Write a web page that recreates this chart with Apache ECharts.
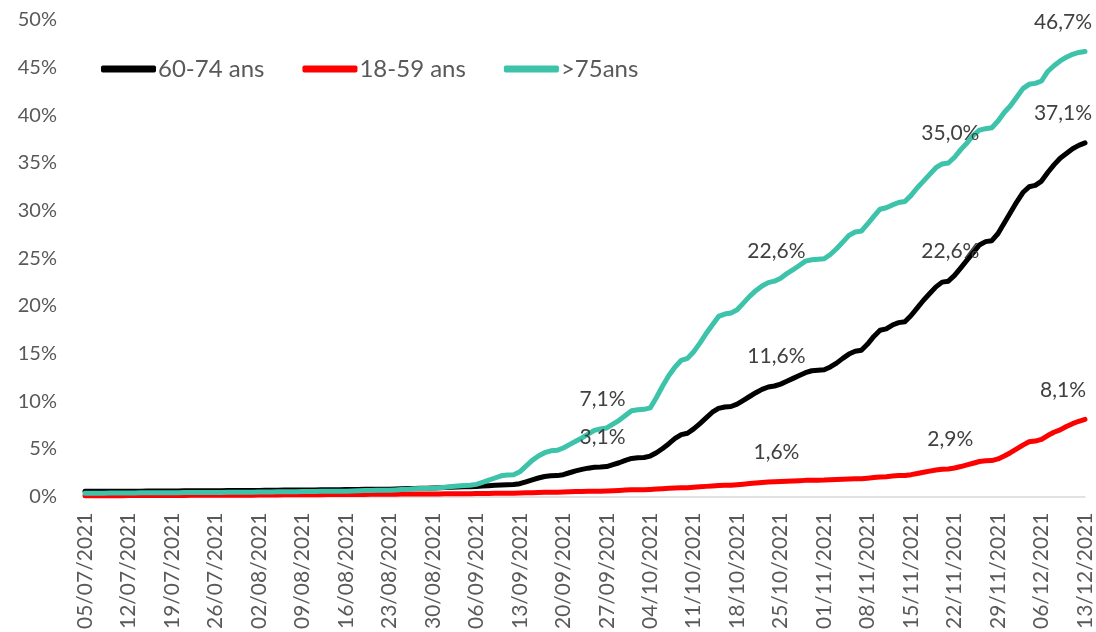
<!DOCTYPE html>
<html>
<head>
<meta charset="utf-8">
<script src="https://cdn.jsdelivr.net/npm/echarts@6/dist/echarts.min.js"></script>
<style>
html,body{margin:0;padding:0;background:#fff;}
#chart{width:1096px;height:632px;}
</style>
</head>
<body>
<div id="chart"></div>
<script>
// Daily categories from 05/07/2021 to 13/12/2021
var startDate = [2021, 6, 5];
var dayCount = 162;
var categories = [];
for (var i = 0; i < dayCount; i++) {
  var d = new Date(startDate[0], startDate[1], startDate[2] + i);
  var dd = ('0' + d.getDate()).slice(-2), mm = ('0' + (d.getMonth() + 1)).slice(-2);
  categories.push(dd + '/' + mm + '/' + d.getFullYear());
}

var seriesNames = ['60-74 ans', '18-59 ans', '>75ans'];

var age6074 = [
0.55,0.55,0.55,0.56,0.56,0.56,0.56,
0.57,0.57,0.57,0.58,0.58,0.58,0.58,
0.59,0.59,0.60,0.60,0.61,0.61,0.61,
0.62,0.62,0.63,0.63,0.64,0.64,0.64,
0.65,0.66,0.66,0.67,0.68,0.68,0.68,
0.69,0.70,0.70,0.71,0.72,0.72,0.72,
0.73,0.74,0.75,0.76,0.77,0.77,0.77,
0.78,0.80,0.82,0.84,0.86,0.87,0.87,
0.89,0.92,0.95,0.98,1.01,1.03,1.04,
1.06,1.10,1.14,1.18,1.22,1.25,1.26,
1.35,1.55,1.75,1.95,2.10,2.18,2.20,
2.30,2.50,2.70,2.85,2.98,3.07,3.10,
3.15,3.35,3.55,3.80,4.00,4.07,4.10,
4.25,4.60,5.05,5.55,6.10,6.50,6.65,
7.10,7.65,8.25,8.85,9.25,9.40,9.45,
9.70,10.1,10.5,10.9,11.25,11.5,11.6,
11.8,12.1,12.4,12.7,13.0,13.2,13.25,
13.3,13.6,14.0,14.5,14.95,15.25,15.35,
16.0,16.8,17.45,17.6,18.0,18.25,18.35,
19.0,19.8,20.6,21.3,22.0,22.5,22.6,
23.2,24.0,24.8,25.6,26.4,26.75,26.85,
27.6,28.7,29.8,30.9,31.9,32.5,32.65,
33.1,34.0,34.8,35.5,36.0,36.5,36.85,37.1
];

var age1859 = [
0.08,0.08,0.08,0.09,0.09,0.09,0.09,
0.10,0.10,0.10,0.11,0.11,0.11,0.11,
0.12,0.12,0.12,0.13,0.13,0.13,0.13,
0.14,0.14,0.14,0.15,0.15,0.15,0.15,
0.16,0.16,0.17,0.17,0.18,0.18,0.18,
0.19,0.19,0.20,0.20,0.21,0.21,0.21,
0.22,0.22,0.23,0.23,0.24,0.24,0.24,
0.25,0.25,0.26,0.26,0.27,0.27,0.27,
0.28,0.28,0.29,0.29,0.30,0.30,0.30,
0.31,0.32,0.33,0.34,0.35,0.35,0.35,
0.37,0.39,0.41,0.43,0.45,0.46,0.46,
0.48,0.50,0.52,0.54,0.56,0.57,0.57,
0.59,0.62,0.65,0.68,0.71,0.72,0.72,
0.75,0.79,0.83,0.87,0.91,0.93,0.93,
0.97,1.02,1.07,1.12,1.17,1.19,1.19,
1.24,1.30,1.36,1.42,1.48,1.53,1.56,
1.58,1.61,1.64,1.67,1.70,1.71,1.72,
1.73,1.76,1.79,1.82,1.85,1.87,1.88,
1.93,1.99,2.06,2.09,2.15,2.20,2.22,
2.30,2.42,2.55,2.67,2.79,2.87,2.90,
3.00,3.15,3.32,3.50,3.68,3.75,3.78,
3.95,4.25,4.60,5.00,5.40,5.75,5.82,
6.00,6.40,6.75,7.00,7.35,7.65,7.90,8.10
];

var age75 = [
0.35,0.35,0.36,0.36,0.37,0.37,0.37,
0.38,0.38,0.39,0.39,0.40,0.40,0.40,
0.41,0.41,0.42,0.42,0.43,0.43,0.43,
0.44,0.44,0.45,0.45,0.46,0.46,0.46,
0.47,0.48,0.49,0.50,0.51,0.51,0.51,
0.52,0.53,0.54,0.55,0.56,0.56,0.56,
0.57,0.59,0.61,0.63,0.65,0.66,0.66,
0.67,0.70,0.74,0.78,0.82,0.84,0.85,
0.87,0.92,0.98,1.05,1.12,1.17,1.19,
1.28,1.50,1.72,1.95,2.18,2.27,2.30,
2.60,3.20,3.80,4.25,4.60,4.80,4.85,
5.10,5.45,5.80,6.15,6.55,6.95,7.10,
7.20,7.60,8.00,8.50,9.00,9.10,9.15,
9.30,10.4,11.6,12.7,13.6,14.3,14.5,
15.2,16.1,17.1,18.0,18.9,19.15,19.25,
19.6,20.3,21.0,21.6,22.1,22.45,22.6,
22.9,23.4,23.8,24.25,24.7,24.85,24.9,
24.95,25.4,26.0,26.7,27.4,27.75,27.85,
28.6,29.4,30.15,30.3,30.6,30.85,30.95,
31.6,32.4,33.1,33.8,34.5,34.9,35.0,
35.6,36.4,37.1,37.9,38.45,38.6,38.7,
39.4,40.3,41.0,41.9,42.8,43.25,43.35,
43.6,44.6,45.2,45.7,46.1,46.4,46.6,46.7
];

// indices of points carrying a data label
var labels6074 = [83, 111, 139, 161];
var labels1859 = [111, 139, 161];
var labels75 = [83, 111, 139, 161];

var yTicks = [0, 5, 10, 15, 20, 25, 30, 35, 40, 45, 50];

var FONT = 'Lato';
var lastIndex = dayCount - 1;

function fmt(v) { return v.toFixed(1).replace('.', ',') + '%'; }

function buildData(values, labelIdx) {
  return values.map(function (v, i) {
    if (labelIdx.indexOf(i) >= 0) {
      return {
        value: v,
        label: {
          show: true,
          position: 'top',
          distance: 19,
          offset: i === lastIndex ? [-22, 0] : [2, 0],
          formatter: function (p) { return fmt(p.value); },
          fontFamily: FONT,
          fontSize: 21,
          color: '#404040'
        }
      };
    }
    return v;
  });
}

function makeSeries(name, values, labelIdx, color) {
  return {
    name: name,
    type: 'line',
    data: buildData(values, labelIdx),
    symbol: 'circle',
    symbolSize: 0,
    showSymbol: true,
    showAllSymbol: true,
    lineStyle: { color: color, width: 5, cap: 'round', join: 'round' },
    itemStyle: { color: color },
    emphasis: { disabled: true },
    label: { show: false },
    z: 2
  };
}

var chart = echarts.init(document.getElementById('chart'), null, { renderer: 'canvas' });
chart.setOption({
  animation: false,
  backgroundColor: '#ffffff',
  textStyle: { fontFamily: FONT },
  grid: { left: 85, right: 11, top: 20, bottom: 132, containLabel: false },
  legend: {
    data: seriesNames,
    left: 96,
    top: 52,
    icon: 'roundRect',
    itemWidth: 55,
    itemHeight: 7,
    itemGap: 38,
    textStyle: { fontFamily: FONT, fontSize: 24, color: '#595959', padding: [0, 0, 0, -3] }
  },
  xAxis: {
    type: 'category',
    data: categories,
    boundaryGap: false,
    axisLine: { show: true, lineStyle: { color: '#D9D9D9', width: 1.5 } },
    axisTick: { show: false },
    axisLabel: {
      interval: 6,
      rotate: 90,
      margin: 16,
      fontFamily: FONT,
      fontSize: 21,
      color: '#595959'
    },
    splitLine: { show: false }
  },
  yAxis: {
    type: 'value',
    min: yTicks[0],
    max: yTicks[yTicks.length - 1],
    interval: 5,
    axisLine: { show: false },
    axisTick: { show: false },
    splitLine: { show: false },
    axisLabel: {
      margin: 28,
      fontFamily: FONT,
      fontSize: 20,
      color: '#595959',
      padding: [5, 0, 0, 0],
      formatter: function (v) { return v + '%'; }
    }
  },
  series: [
    makeSeries(seriesNames[0], age6074, labels6074, '#000000'),
    makeSeries(seriesNames[1], age1859, labels1859, '#FF0000'),
    makeSeries(seriesNames[2], age75, labels75, '#3CC3AA')
  ]
});
</script>
</body>
</html>
